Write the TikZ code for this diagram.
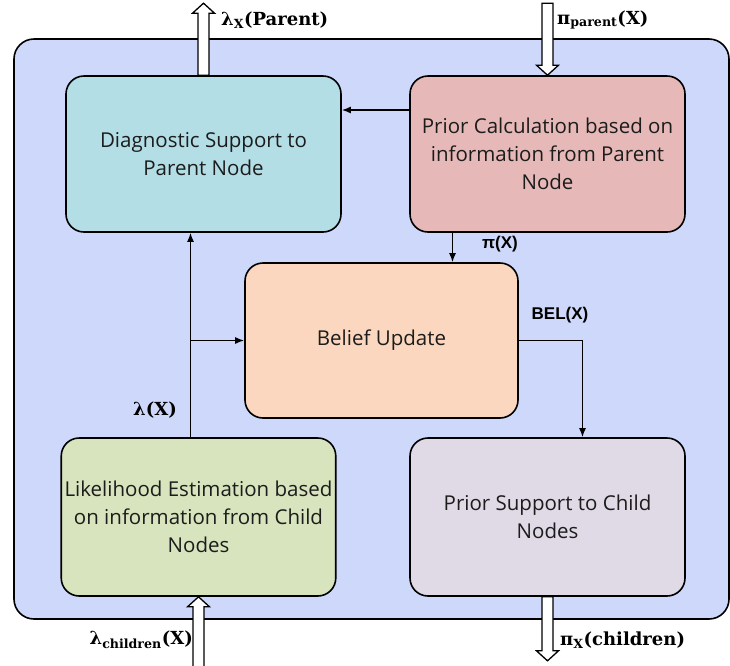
\documentclass[tikz,border=0pt]{standalone}
\usepackage{fontspec}
\setmainfont{Open Sans}
\newfontfamily\labelfont{DejaVu Serif}
\newfontfamily\arialfont{Liberation Sans}
\usetikzlibrary{arrows.meta,calc}
\definecolor{Ink}{HTML}{1C1C1C}
\definecolor{Frame}{HTML}{CDD8FA}
\definecolor{Cyan}{HTML}{B4DEE6}
\definecolor{Rose}{HTML}{E6B9B8}
\definecolor{Peach}{HTML}{FAD7BE}
\definecolor{Olive}{HTML}{D7E4BD}
\definecolor{Lilac}{HTML}{DFDAE6}
\tikzset{
  block/.style={draw=black, line width=1.6pt, rounded corners=18pt, minimum width=275pt,
    minimum height=156pt, align=center, text=Ink, font=\fontsize{20.5}{28}\selectfont},
  conn/.style={line width=1.5pt, -{Latex[length=9pt,width=7pt]}},
  bigarrow/.style={draw=black, fill=white, line width=1.3pt},
  lbl/.style={font=\labelfont\bfseries\fontsize{18}{20}\selectfont, inner sep=0pt},
  sflbl/.style={font=\arialfont\bfseries\fontsize{17}{20}\selectfont, inner sep=0pt},
}
% hollow arrow: anchor, tail offset, tip offset (vertical)
\newcommand{\hollowarrow}[3]{
  \begin{scope}[shift={(#1)}]
    \pgfmathsetmacro{\headbase}{#3-10*sign(#3-#2)}
    \draw[bigarrow] (-5.5,#2) -- (-5.5,\headbase) -- (-11,\headbase) -- (0,#3)
      -- (11,\headbase) -- (5.5,\headbase) -- (5.5,#2) -- cycle;
  \end{scope}
}

\begin{document}
\begin{tikzpicture}[x=1pt, y=-1pt]
        \useasboundingbox (0,0) rectangle (730,665);
        \draw[fill=Frame, line width=1.6pt, rounded corners=20pt] (14,39) rectangle (729,619);
        % blocks
        \node[block, fill=Cyan] (diag) at (203.5,154) {Diagnostic Support to\\Parent Node};
        \node[block, fill=Rose] (prior) at (547.5,154) {Prior Calculation based on\\information from Parent\\Node};
        \node[block, fill=Peach, minimum width=273pt, minimum height=155pt] (belief) at (381.5,340.5) {Belief Update};
        \node[block, fill=Olive, minimum width=273pt, minimum height=158pt] (lik) at (198.5,517) {Likelihood Estimation based\\on information from Child\\Nodes};
        \node[block, fill=Lilac, minimum height=158pt] (child) at (547.5,517) {Prior Support to Child\\Nodes};
        % connectors
        \draw[conn] ([yshift=44pt]prior.west) -- ([yshift=44pt]diag.east);
        \draw[conn] ([xshift=-95pt]prior.south) -- ([xshift=-95pt]prior.south |- belief.north);
        \draw[conn] ([xshift=-8pt]lik.north) -- ([xshift=-8pt]lik.north |- diag.south);
        \draw[conn] ([xshift=-8pt]lik.north |- belief.west) -- (belief.west);
        \draw[conn] (belief.east) -| ([xshift=35pt]child.north);
        % in and out
        \hollowarrow{diag.north}{0}{-72}
        \hollowarrow{prior.north}{-72}{0}
        \hollowarrow{lik.south}{72}{0}
        \hollowarrow{child.south}{0}{64}
        % labels
        \node[lbl, anchor=west] (lpar) at (221,20) {λ\textsubscript{X}(Parent)};
        \node[lbl, anchor=west] (ppar) at (557,20) {π\textsubscript{parent}(X)};
        \node[lbl, anchor=east] (lchi) at (193,640) {λ\textsubscript{children}(X)};
        \node[lbl, anchor=west] (pchi) at (560,640) {π\textsubscript{X}(children)};
        \node[lbl] (lx) at (155,410) {λ(X)};
        \node[sflbl] (px) at (500,244) {π(X)};
        \node[sflbl] (bel) at (560,315) {BEL(X)};
      \end{tikzpicture}
\end{document}
